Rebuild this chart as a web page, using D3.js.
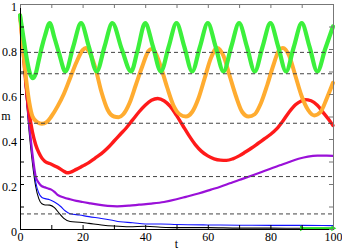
<!DOCTYPE html>
<html>
<head>
<meta charset="utf-8">
<script src="https://cdn.jsdelivr.net/npm/d3@7"></script>
<style>
  body { margin: 0; background: #fff; }
  svg { display: block; }
  text { font-family: "Liberation Serif", "DejaVu Serif", serif; font-size: 12px; fill: #000; }
  .axis path, .axis line { stroke: #000; }
  .axis-mirror path, .axis-mirror line { stroke: #777; }
  .ref-line { stroke: #444; stroke-width: 1; stroke-dasharray: 4,3; }
  .curve { fill: none; stroke-linejoin: round; stroke-linecap: round; }
</style>
</head>
<body>
<div id="chart"></div>
<script>

// Data

let xTicks = [0, 10, 20, 30, 40, 50, 60, 70, 80, 90, 100];
let xLabels = [0, 20, 40, 60, 80, 100];
let yTicks = [0, 0.1, 0.2, 0.3, 0.4, 0.5, 0.6, 0.7, 0.8, 0.9, 1];
let yLabels = [0, 0.2, 0.4, 0.6, 0.8, 1];

// dashed horizontal levels
let refLevels = [0.785, 0.69, 0.47, 0.233, 0.067];

let greenT = [0, 1, 2, 3, 4, 5, 6, 7, 8, 9.5, 11, 12.5, 14.5, 17, 19.5, 22, 24.5, 27, 29.5, 32.5, 35.5, 37.5, 40, 42.5, 45, 47.5, 50, 52.5, 55, 57.5, 60, 62.5, 65, 67.5, 70, 72.5, 75, 77.5, 80, 82.5, 85, 87.5, 90, 92.5, 95, 97.5, 100];
let greenM = [0.95, 0.86, 0.77, 0.70, 0.67, 0.69, 0.75, 0.81, 0.86, 0.915, 0.85, 0.78, 0.70, 0.81, 0.915, 0.81, 0.70, 0.81, 0.915, 0.80, 0.70, 0.79, 0.915, 0.81, 0.70, 0.81, 0.915, 0.81, 0.70, 0.81, 0.915, 0.81, 0.70, 0.81, 0.915, 0.81, 0.70, 0.81, 0.915, 0.81, 0.70, 0.81, 0.915, 0.81, 0.70, 0.80, 0.90];

let orangeT = [0, 1, 2, 3, 4, 5.5, 7, 8.5, 10, 12, 14, 16, 18, 20, 21, 22, 24, 26, 28, 30, 31.5, 33, 35, 37, 39, 41, 42, 43, 45, 47, 49, 51, 53, 55, 57, 59, 61, 63, 65, 67, 69, 71, 73, 75, 77, 79, 81, 83, 84, 86, 88, 90, 92, 94, 96, 98, 100];
let orangeM = [0.95, 0.80, 0.66, 0.56, 0.50, 0.475, 0.468, 0.475, 0.50, 0.545, 0.60, 0.67, 0.74, 0.795, 0.805, 0.79, 0.72, 0.61, 0.53, 0.50, 0.497, 0.51, 0.56, 0.64, 0.72, 0.79, 0.80, 0.79, 0.72, 0.63, 0.55, 0.51, 0.50, 0.52, 0.58, 0.67, 0.76, 0.805, 0.77, 0.68, 0.59, 0.52, 0.50, 0.51, 0.56, 0.64, 0.73, 0.80, 0.805, 0.77, 0.68, 0.59, 0.53, 0.505, 0.52, 0.58, 0.65];

let redT = [0, 1, 2, 3, 4, 5, 6, 7, 8, 10, 12, 14, 15, 16, 18, 20, 22, 24, 26, 28, 30, 32, 34, 36, 38, 40, 42, 44, 46, 48, 50, 52, 54, 56, 58, 60, 62, 64, 66, 68, 70, 72, 74, 76, 78, 80, 82, 84, 86, 88, 90, 91, 93, 95, 97, 99, 100];
let redM = [0.95, 0.79, 0.63, 0.51, 0.43, 0.375, 0.34, 0.315, 0.30, 0.288, 0.274, 0.257, 0.25, 0.252, 0.265, 0.28, 0.295, 0.315, 0.335, 0.36, 0.39, 0.42, 0.45, 0.485, 0.52, 0.55, 0.572, 0.58, 0.57, 0.545, 0.505, 0.46, 0.415, 0.375, 0.345, 0.325, 0.312, 0.306, 0.305, 0.312, 0.325, 0.342, 0.36, 0.38, 0.40, 0.42, 0.445, 0.48, 0.52, 0.552, 0.57, 0.575, 0.57, 0.55, 0.515, 0.48, 0.46];

let purpleT = [0, 1, 2, 3, 4, 5, 6, 7, 8, 9, 10, 11, 12, 14, 16, 18, 20, 22, 25, 28, 31, 35, 38, 42, 46, 50, 53, 57, 61, 64, 67, 70, 73, 77, 80, 83, 86, 89, 92, 95, 98, 100];
let purpleM = [0.95, 0.78, 0.61, 0.46, 0.33, 0.235, 0.205, 0.19, 0.185, 0.18, 0.175, 0.165, 0.152, 0.14, 0.132, 0.125, 0.12, 0.115, 0.108, 0.103, 0.101, 0.104, 0.108, 0.113, 0.12, 0.132, 0.143, 0.158, 0.175, 0.188, 0.203, 0.218, 0.232, 0.252, 0.268, 0.283, 0.298, 0.312, 0.322, 0.326, 0.326, 0.325];

let blueT = [0, 1, 2, 3, 4, 5, 6, 7, 8, 9.5, 11, 13, 14.5, 16, 19, 22, 26, 29, 32, 36, 40, 45, 50, 60, 70, 80, 90, 100];
let blueM = [0.95, 0.77, 0.60, 0.45, 0.32, 0.21, 0.16, 0.14, 0.135, 0.13, 0.12, 0.10, 0.08, 0.068, 0.062, 0.055, 0.047, 0.04, 0.032, 0.028, 0.022, 0.022, 0.02, 0.018, 0.017, 0.016, 0.016, 0.015];

let blackT = [0, 1, 2, 3, 4, 5, 6, 7, 8, 9.5, 11, 12.5, 14, 16, 19, 22, 26, 30, 35, 40, 45, 50, 60, 70, 80, 90, 100];
let blackM = [0.95, 0.76, 0.58, 0.42, 0.29, 0.19, 0.135, 0.112, 0.107, 0.106, 0.095, 0.07, 0.047, 0.033, 0.03, 0.025, 0.018, 0.013, 0.01, 0.012, 0.008, 0.006, 0.006, 0.004, 0.004, 0.003, 0.003];

// short green arrow sitting on the bottom axis
let arrowT = [90, 100];
let arrowM = [0.003, 0.003];

function drawChart(width, height, selector) {

	let margin = { top: 4, left: 20, right: 9, bottom: 21 };
	let chartWidth = width - margin.left - margin.right;
	let chartHeight = height - margin.top - margin.bottom;

	////////////////
	//// Scales ////
	////////////////

	let xPositionScale = d3.scaleLinear()
		.domain([0, 100])
		.range([0, chartWidth]);

	let yPositionScale = d3.scaleLinear()
		.domain([0, 1])
		.range([chartHeight, 0]);

	let line = d3.line()
		.curve(d3.curveMonotoneX)
		.x(d => xPositionScale(d[0]))
		.y(d => yPositionScale(d[1]));

	//////////////////////////
	/// Building the chart ///
	//////////////////////////

	let svg = d3.select(selector)
		.append("svg")
		.attr("width", width)
		.attr("height", height);

	let chart = svg.append("g")
		.attr("transform", "translate(" + margin.left + "," + margin.top + ")");

	// series, drawn back to front
	let series = [
		{ t: blackT, m: blackM, color: "#000000", w: 1.1 },
		{ t: blueT, m: blueM, color: "#1010ff", w: 1.1 },
		{ t: purpleT, m: purpleM, color: "#9a10d8", w: 2.2 },
		{ t: redT, m: redM, color: "#ff1a1a", w: 3.4 },
		{ t: orangeT, m: orangeM, color: "#ffac30", w: 4 },
		{ t: greenT, m: greenM, color: "#3cf03c", w: 4.2 }
	];

	series.forEach(function(s) {
		let points = s.t.map((t, i) => [t, s.m[i]]);
		chart.append("path")
			.attr("class", "curve")
			.attr("d", line(points))
			.attr("stroke", s.color)
			.attr("stroke-width", s.w);
	});

	// dashed reference lines sit over the curves
	chart.selectAll(".ref-line")
		.data(refLevels)
		.enter().append("line")
		.attr("class", "ref-line")
		.attr("x1", 0)
		.attr("x2", chartWidth)
		.attr("y1", d => yPositionScale(d))
		.attr("y2", d => yPositionScale(d));

	// green arrow at the bottom right
	let arrowPoints = arrowT.map((t, i) => [t, arrowM[i]]);
	chart.append("path")
		.attr("class", "curve")
		.attr("d", d3.line().x(d => xPositionScale(d[0])).y(d => yPositionScale(d[1]))(arrowPoints))
		.attr("stroke", "#20e020")
		.attr("stroke-width", 2);

	chart.selectAll(".arrow-head")
		.data(arrowPoints)
		.enter().append("path")
		.attr("class", "arrow-head")
		.attr("d", d3.symbol().type(d3.symbolTriangle).size(14))
		.attr("transform", d => "translate(" + xPositionScale(d[0]) + "," + yPositionScale(d[1]) + ") rotate(90)")
		.attr("fill", "#20e020");

	/////////////
	/// Axes ////
	/////////////

	let xAxis = d3.axisBottom(xPositionScale)
		.tickValues(xTicks)
		.tickSizeInner(-4)
		.tickSizeOuter(0)
		.tickPadding(3)
		.tickFormat(d => xLabels.includes(d) ? d : "");

	chart.append("g")
		.attr("class", "axis x-axis")
		.attr("transform", "translate(0," + chartHeight + ")")
		.call(xAxis);

	let yAxis = d3.axisLeft(yPositionScale)
		.tickValues(yTicks)
		.tickSizeInner(-4)
		.tickSizeOuter(0)
		.tickPadding(3)
		.tickFormat(d => yLabels.includes(d) ? d3.format("")(d) : "");

	chart.append("g")
		.attr("class", "axis y-axis")
		.call(yAxis);

	// mirrored axes on top and right, ticks only
	chart.append("g")
		.attr("class", "axis axis-mirror")
		.call(d3.axisTop(xPositionScale).tickValues(xTicks).tickSizeInner(-4).tickSizeOuter(0).tickFormat(""));

	chart.append("g")
		.attr("class", "axis axis-mirror")
		.attr("transform", "translate(" + chartWidth + ",0)")
		.call(d3.axisRight(yPositionScale).tickValues(yTicks).tickSizeInner(-4).tickSizeOuter(0).tickFormat(""));

	// serif labels, y labels nudged down a little like the original
	d3.selectAll(".axis")
		.attr("font-family", "Liberation Serif")
		.attr("font-size", 12);
	d3.selectAll(".axis text").attr("fill", "#000");
	d3.selectAll(".y-axis > .tick > text").attr("dy", "0.55em");

	// axis titles
	svg.append("text")
		.attr("x", margin.left + chartWidth / 2)
		.attr("y", 248)
		.attr("text-anchor", "middle")
		.text("t");

	svg.append("text")
		.attr("x", 6)
		.attr("y", 120)
		.attr("text-anchor", "middle")
		.text("m");
}

drawChart(342, 250, "#chart");
</script>
</body>
</html>
